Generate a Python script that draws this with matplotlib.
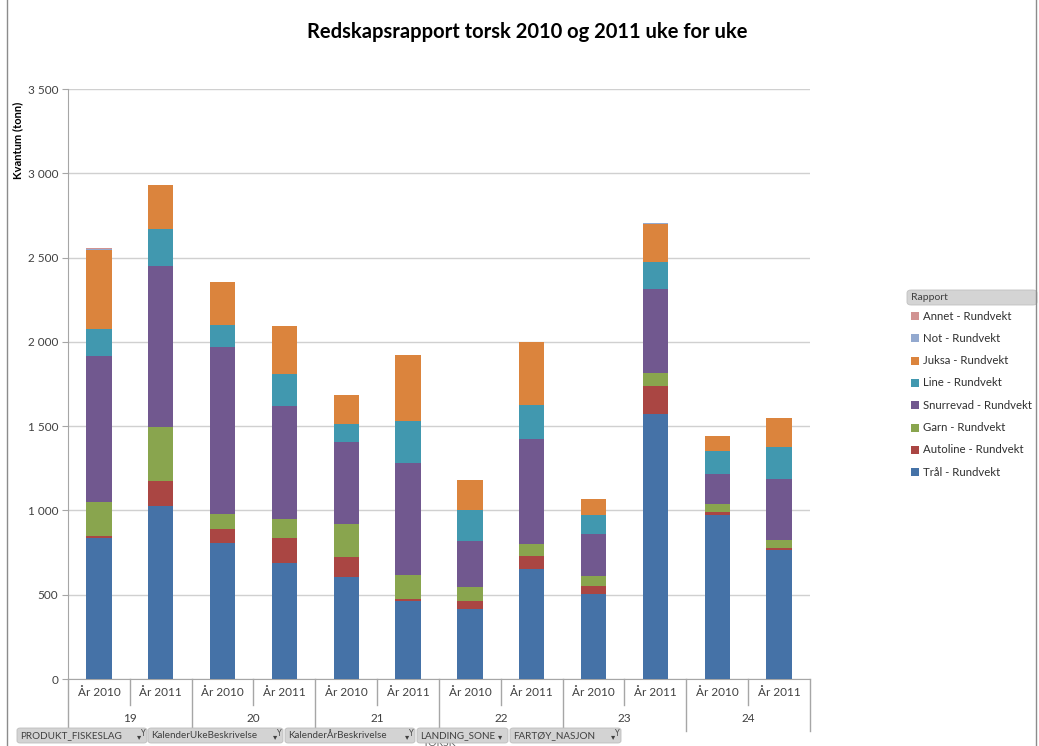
import matplotlib
matplotlib.use("Agg")
import matplotlib.pyplot as plt
import matplotlib.transforms as mtransforms
from matplotlib.patches import FancyBboxPatch, Rectangle
from matplotlib.ticker import FuncFormatter, MultipleLocator
import numpy as np

plt.rcParams['font.family'] = ['Lato', 'DejaVu Sans']

# ---------------- data ----------------
weeks = ['19', '20', '21', '22', '23', '24']
years = ['År 2010', 'År 2011']
series_names = ['Trål - Rundvekt', 'Autoline - Rundvekt', 'Garn - Rundvekt',
                'Snurrevad - Rundvekt', 'Line - Rundvekt', 'Juksa - Rundvekt',
                'Not - Rundvekt', 'Annet - Rundvekt']
tral      = [838, 1028, 809, 690, 604, 465, 418, 655, 506, 1571, 975, 764]
autoline  = [12, 148, 80, 146, 119, 12, 45, 76, 45, 170, 18, 14]
garn      = [199, 317, 88, 116, 199, 137, 82, 72, 59, 74, 45, 47]
snurrevad = [870, 959, 993, 670, 481, 670, 274, 622, 250, 501, 181, 361]
line      = [158, 219, 129, 190, 110, 246, 182, 201, 113, 158, 135, 190]
juksa     = [470, 262, 256, 281, 173, 390, 177, 372, 92, 226, 88, 174]
notv      = [3, 0, 0, 0, 0, 0, 0, 0, 0, 4, 0, 0]
annet     = [5, 0, 0, 0, 0, 3, 0, 0, 0, 0, 0, 0]
colors = ['#4572A7', '#AA4643', '#89A54E', '#71588F', '#4198AF', '#DB843D',
          '#93A9CF', '#D19392']
pivot_fields = ['PRODUKT_FISKESLAG', 'KalenderUkeBeskrivelse',
                'KalenderÅrBeskrivelse', 'LANDING_SONE', 'FARTØY_NASJON']
legend_title = 'Rapport'
title = 'Redskapsrapport torsk 2010 og 2011 uke for uke'
ylabel = 'Kvantum (tonn)'

values = [tral, autoline, garn, snurrevad, line, juksa, notv, annet]

W, H = 1039, 746
fig = plt.figure(figsize=(W / 100, H / 100), dpi=100)
fig.patch.set_facecolor('white')

def fx(px):
    return px / W

def fy(py):
    return 1 - py / H

ax_l, ax_r, ax_t, ax_b = 68, 810, 89, 679
ax = fig.add_axes([fx(ax_l), fy(ax_b), fx(ax_r - ax_l), (ax_b - ax_t) / H])

n = len(weeks) * len(years)
x = np.arange(n)
bottom = np.zeros(n)
for vals, c, name in zip(values, colors, series_names):
    v = np.array(vals, dtype=float)
    ax.bar(x, v, width=0.41, bottom=bottom, color=c, label=name, zorder=3,
           edgecolor='none')
    bottom += v

ax.set_xlim(-0.5, n - 0.5)
ax.set_ylim(0, 3500)
ax.yaxis.set_major_locator(MultipleLocator(500))
ax.yaxis.set_major_formatter(FuncFormatter(lambda v, p: f"{int(v):,}".replace(",", " ")))
ax.grid(axis='y', color='#D0D0D0', linewidth=1, zorder=0)
ax.set_axisbelow(True)
for s in ['top', 'right']:
    ax.spines[s].set_visible(False)
ax.spines['left'].set_color('#A6A6A6')
ax.spines['bottom'].set_color('#A6A6A6')
ax.tick_params(axis='y', length=4, color='#A6A6A6', labelsize=8.5,
               labelcolor='#404040', pad=3)
ax.set_xticks([])

# category labels (two levels)
trans = mtransforms.blended_transform_factory(ax.transData, fig.transFigure)
for i in range(n):
    ax.text(x[i], fy(693), years[i % 2], transform=trans, ha='center',
            va='center', fontsize=8.5, color='#404040')
for g, wk in enumerate(weeks):
    ax.text(2 * g + 0.5, fy(718), wk, transform=trans, ha='center',
            va='center', fontsize=8.5, color='#404040')
# separators
for i in range(n + 1):
    xb = i - 0.5
    if i % 2 == 0:
        y_end = 731
    else:
        y_end = 705
    ax.plot([xb, xb], [fy(ax_b), fy(y_end)], transform=trans, color='#A6A6A6',
            linewidth=1, clip_on=False, zorder=1)

# title & y label
fig.text(fx(527), fy(32), title, ha='center', va='center', fontsize=14.5,
         fontweight='bold', color='black')
fig.text(fx(18), fy(140), ylabel, ha='center', va='center', rotation=90,
         fontsize=8, fontweight='bold', color='black')

# legend
leg_x0 = 907
fig.patches.append(FancyBboxPatch((fx(leg_x0), fy(305)), fx(130), 15 / H,
                                  boxstyle='round,pad=0,rounding_size=0.004',
                                  transform=fig.transFigure, facecolor='#D4D4D4',
                                  edgecolor='#C0C0C0', linewidth=0.6))
fig.text(fx(911), fy(297.5), legend_title, ha='left', va='center',
         fontsize=7.5, color='#404040')
order = list(range(len(series_names)))[::-1]
for k, idx in enumerate(order):
    yy = 316 + k * 22.3
    fig.patches.append(Rectangle((fx(911), fy(yy + 4)), fx(8), 8 / H,
                                 transform=fig.transFigure,
                                 facecolor=colors[idx], edgecolor='none'))
    fig.text(fx(923), fy(yy), series_names[idx], ha='left', va='center',
             fontsize=8.2, color='#303030')

# hidden field value behind buttons
fig.text(fx(423), fy(748), 'TORSK', ha='left', va='bottom', fontsize=7.5,
         color='#606060', zorder=1)

# pivot field buttons
btns = [(17, 147, True), (148, 283, True), (285, 415, True), (417, 508, False),
        (510, 621, True)]
for (x0, x1, filt), label in zip(btns, pivot_fields):
    fig.patches.append(FancyBboxPatch((fx(x0), fy(743)), fx(x1 - x0), 15 / H,
                                      boxstyle='round,pad=0,rounding_size=0.003',
                                      transform=fig.transFigure,
                                      facecolor='#D3D3D3', edgecolor='#BDBDBD',
                                      linewidth=0.6, zorder=5))
    fig.text(fx(x0 + 3), fy(735.5), label, ha='left', va='center',
             fontsize=7.1, color='#404040', zorder=6)
    fig.text(fx(x1 - 8), fy(736.5), '▾', ha='center', va='center',
             fontsize=6, color='#404040', zorder=6, family='DejaVu Sans')
    if filt:
        fig.text(fx(x1 - 4), fy(733), 'Y', ha='center', va='center',
                 fontsize=5.5, color='#404040', zorder=6, family='DejaVu Sans')

# chart outer borders
fig.add_artist(plt.Line2D([fx(7), fx(7)], [0, 1], transform=fig.transFigure,
                          color='#8C8C8C', linewidth=1))
fig.add_artist(plt.Line2D([fx(1036), fx(1036)], [0, 1], transform=fig.transFigure,
                          color='#8C8C8C', linewidth=1))

fig.savefig('out.png', dpi=100)
